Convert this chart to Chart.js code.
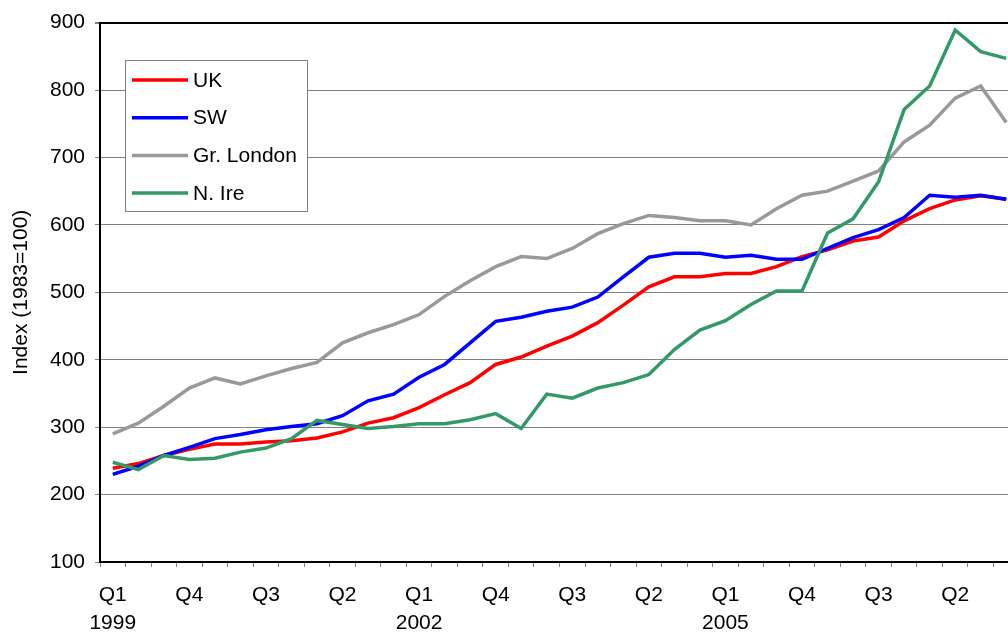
<!DOCTYPE html>
<html>
<head>
<meta charset="utf-8">
<script src="https://cdn.jsdelivr.net/npm/chart.js@4"></script>
<style>
  html, body { margin: 0; padding: 0; overflow: hidden; background: #fff; }
  #wrap { width: 1021px; height: 637px; }
</style>
</head>
<body>
<div id="wrap"><canvas id="myChart"></canvas></div>
<script>
// Quarters Q1 1999 .. Q4 2007
const years = [1999, 2000, 2001, 2002, 2003, 2004, 2005, 2006, 2007];
const quarters = ['Q1', 'Q2', 'Q3', 'Q4'];
const labels = [];
years.forEach(y => quarters.forEach(q => labels.push(q + ' ' + y)));

// Index (1983=100)
const uk = [239, 246, 258, 267, 275, 275, 278, 280, 284, 293, 306, 314,
            329, 348, 366, 393, 404, 420, 435, 455, 481, 508, 523, 523,
            528, 528, 538, 553, 563, 576, 582, 606, 624, 637, 643, 638];
const sw = [230, 242, 258, 270, 283, 289, 296, 301, 305, 317, 339, 349,
            374, 393, 425, 457, 463, 472, 478, 493, 523, 552, 558, 558,
            552, 555, 549, 549, 565, 581, 593, 611, 644, 641, 644, 638];
const london = [290, 306, 331, 358, 373, 364, 376, 387, 396, 425, 440, 452,
                467, 494, 517, 538, 553, 550, 565, 587, 602, 614, 611, 606,
                606, 600, 624, 644, 650, 665, 680, 723, 748, 788, 806, 752];
const nIre = [248, 237, 258, 252, 254, 263, 269, 283, 310, 304, 298, 301,
              305, 305, 311, 320, 298, 349, 343, 358, 366, 378, 415, 444,
              458, 482, 502, 502, 588, 609, 664, 771, 806, 889, 857, 847];

const yTicks = [100, 200, 300, 400, 500, 600, 700, 800, 900];

const FONT = 'Liberation Sans, Arial, sans-serif';

// legend box drawn inside the plot
const boxLegend = {
    id: 'boxLegend',
    afterDraw(chart) {
        const ctx = chart.ctx;
        ctx.save();
        ctx.fillStyle = '#fff';
        ctx.fillRect(125, 60, 182, 151);
        ctx.strokeStyle = '#808080';
        ctx.lineWidth = 1;
        ctx.strokeRect(125.5, 60.5, 182, 151);
        ctx.font = '21px ' + FONT;
        ctx.textBaseline = 'middle';
        ctx.fillStyle = '#000';
        chart.data.datasets.forEach((ds, i) => {
            const y = 80 + i * 37.7;
            ctx.strokeStyle = ds.borderColor;
            ctx.lineWidth = 3.5;
            ctx.beginPath();
            ctx.moveTo(132, y);
            ctx.lineTo(188, y);
            ctx.stroke();
            ctx.fillText(ds.label, 193, y + 1);
        });
        ctx.restore();
    }
};

const ctx = document.getElementById('myChart').getContext('2d');

const data = {
    labels,
    datasets: [
        { label: 'UK', data: uk, borderColor: '#ff0000', order: 3 },
        { label: 'SW', data: sw, borderColor: '#0000ff', order: 2 },
        { label: 'Gr. London', data: london, borderColor: '#999999', order: 1 },
        { label: 'N. Ire', data: nIre, borderColor: '#339966', order: 0 }
    ].map(d => Object.assign(d, { borderWidth: 3.5, pointRadius: 0, tension: 0, fill: false }))
};

const config = {
    type: 'line',
    data: data,
    options: {
        responsive: true,
        maintainAspectRatio: false,
        animation: false,
        layout: { padding: { top: 20, right: 2, left: 0, bottom: 0 } },
        plugins: {
            legend: { display: false },
            tooltip: { enabled: false }
        },
        scales: {
            x: {
                offset: true,
                afterFit: s => { s.height = 75; },
                border: { display: true, color: '#000', width: 2 },
                grid: {
                    offset: true,
                    drawOnChartArea: false,
                    drawTicks: true,
                    tickLength: 5,
                    tickColor: '#808080'
                },
                ticks: {
                    autoSkip: false,
                    maxRotation: 0,
                    padding: 14,
                    color: '#000',
                    font: { family: FONT, size: 21, lineHeight: 28 / 21 },
                    callback: function(value, index) {
                        if (index % 3 !== 0) return '';
                        const parts = labels[index].split(' ');
                        return parts[0] === 'Q1' ? [parts[0], parts[1]] : parts[0];
                    }
                }
            },
            y: {
                min: yTicks[0],
                max: yTicks[yTicks.length - 1],
                afterFit: s => { s.width = 100; },
                afterBuildTicks: s => { s.ticks = yTicks.map(v => ({ value: v })); },
                border: { display: true, color: '#000', width: 2 },
                grid: {
                    color: c => c.tick && c.tick.value === 900 ? '#000' : '#808080',
                    lineWidth: c => c.tick && c.tick.value === 900 ? 2 : 1,
                    drawTicks: true,
                    tickLength: 5,
                    tickColor: '#808080'
                },
                ticks: {
                    padding: 10,
                    color: '#000',
                    font: { family: FONT, size: 21 }
                },
                title: {
                    display: true,
                    text: 'Index (1983=100)',
                    color: '#000',
                    padding: { top: 9, bottom: 0 },
                    font: { family: FONT, size: 21 }
                }
            }
        }
    },
    plugins: [boxLegend]
};

const myChart = new Chart(ctx, config);
</script>
</body>
</html>
